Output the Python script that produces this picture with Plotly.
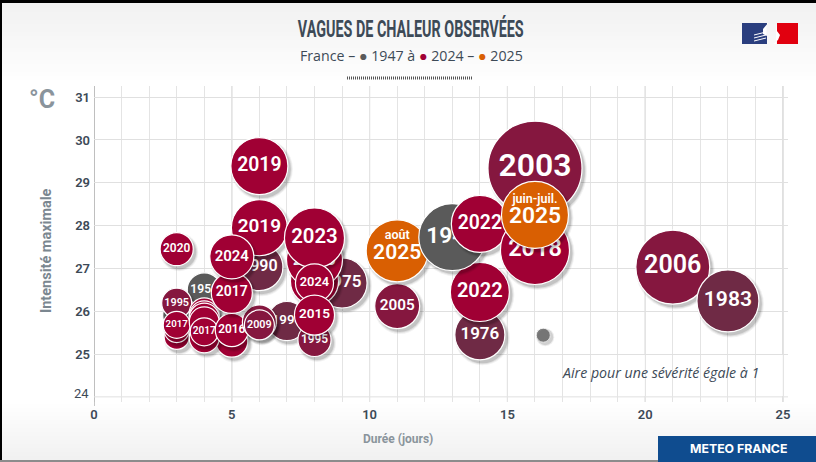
import plotly.graph_objects as go

# vagues de chaleur : ordre de la liste = ordre de dessin (du fond vers l'avant)
annees = ['1952', '1959', '2018', '2019', '1995', '2017',
          '2018',
          '2018', '2019', '2017', '2018', '2019', '2017', '2016',
          '1994', '2009', '2009', '1990', '2019', '2019', '2017', '2024', '2020',
          '1975', '2019', '2020', '2023', '2024', '1995', '2015',
          '2005', 'août 2025', '1976', '2022', '1947', '2022', '2003', '2018', 'juin-juil. 2025',
          '2006', '1983']
duree = [3, 4, 3, 3, 3, 3,
         5,
         4, 4, 4, 4, 4, 4, 5,
         7, 6, 6, 6, 6, 6, 5, 5, 3,
         9, 8, 8, 8, 8, 8, 8,
         11, 11, 14, 14, 13, 14, 16, 16, 16,
         21, 23]
intensite = [25.9, 26.5, 25.4, 25.56, 26.19, 25.68,
             25.3,
             25.38, 25.96, 25.89, 25.84, 25.75, 25.52, 25.56,
             25.77, 25.75, 25.68, 27.03, 29.39, 27.95, 26.43, 27.27, 27.45,
             26.66, 26.7, 27.2, 27.71, 26.66, 25.33, 25.91,
             26.12, 27.41, 25.45, 26.45, 27.73, 28.04, 29.34, 27.43, 28.25,
             27.03, 26.24]
severite = [4.0, 5.9, 3.2, 3.2, 4.6, 3.7,
            5.2,
            4.6, 4.6, 4.6, 4.6, 4.6, 4.0, 5.6,
            7.8, 5.9, 4.6, 11.3, 16.6, 16.0, 8.6, 9.9, 5.6,
            12.8, 11.8, 16.0, 18.4, 7.4, 5.6, 8.2,
            10.3, 19.6, 12.8, 17.8, 22.9, 16.6, 45.1, 24.3, 22.9,
            27.9, 19.6]
# bulles recouvertes : leur etiquette ne se voit pas sur l'image
sans_etiquette = [0, 2, 3, 6, 7, 8, 9, 10, 11, 15, 24]

ticks_x = [0, 5, 10, 15, 20, 25]
ticks_y = [25, 26, 27, 28, 29, 30, 31]

W, H = 816, 462
L, R, T, B = 94, 788, 86, 402
x_range = [0, 25.18]
y_range = [23.88, 31.26]
SIZEREF = 2 / 196  # severite 1 = 14 px de diametre


def px(x):
    return (x - L) / (R - L)


def py(y):
    return (B - y) / (B - T)


def couleur(label):
    an = int(label[-4:])
    if an >= 2025:
        return '#d95f02'
    if an < 1960:
        return '#5a5a5a'
    if an < 1995:
        return '#6f2a45'
    if an < 2010:
        return '#85173f'
    return '#a00034'


def path_px(points):
    return 'M ' + ' L '.join(f'{px(a):.4f},{py(b):.4f}' for a, b in points) + ' Z'


shapes = []
# fond degrade en bandes
for i in range(0, 80, 4):
    g = int(241 + 14 * i / 80)
    shapes.append(dict(type='rect', xref='paper', yref='paper', x0=px(0), x1=px(W), y0=py(i), y1=py(i + 4),
                       fillcolor=f'rgb({g},{g},{g})', line_width=0, layer='below'))
for i in range(400, 462, 4):
    g = int(255 - 15 * (i - 400) / 62)
    shapes.append(dict(type='rect', xref='paper', yref='paper', x0=px(0), x1=px(W), y0=py(i), y1=py(i + 4),
                       fillcolor=f'rgb({g},{g},{g})', line_width=0, layer='below'))
# cadre
shapes.append(dict(type='rect', xref='paper', yref='paper', x0=px(0), x1=px(W), y0=py(0), y1=py(3),
                   fillcolor='#000000', line_width=0))
shapes.append(dict(type='rect', xref='paper', yref='paper', x0=px(0), x1=px(2), y0=py(0), y1=py(H),
                   fillcolor='#000000', line_width=0))
shapes.append(dict(type='rect', xref='paper', yref='paper', x0=px(0), x1=px(W), y0=py(460), y1=py(462),
                   fillcolor='#8c8c8c', line_width=0))
# trait hachure sous le sous-titre
shapes.append(dict(type='line', xref='paper', yref='paper', x0=px(347), x1=px(473), y0=py(78), y1=py(78),
                   line=dict(color='#555555', width=3, dash='1px,1px')))
# grille : lignes majeures tous les 5
for v in ticks_x:
    shapes.append(dict(type='line', xref='x', yref='paper', x0=v, x1=v, y0=0, y1=1,
                       line=dict(color='#bcbcbc', width=1), layer='below'))
shapes.append(dict(type='line', xref='x', yref='paper', x0=0, x1=0, y0=py(406), y1=1,
                   line=dict(color='#b4b4b4', width=1.5), layer='below'))
# cadre de la legende, au-dessus de la grille
shapes.append(dict(type='rect', xref='paper', yref='paper', x0=px(526), x1=px(783), y0=py(355), y1=py(396),
                   fillcolor='rgba(255,255,255,0.8)', line_width=0, layer='between'))
# bandeau meteo france
shapes.append(dict(type='rect', xref='paper', yref='paper', x0=px(658), x1=px(816), y0=py(436), y1=py(462),
                   fillcolor='#0f4c8f', line_width=0))
# logo
shapes.append(dict(type='rect', xref='paper', yref='paper', x0=px(742), x1=px(767), y0=py(23), y1=py(44),
                   fillcolor='#2a3e7e', line_width=0))
shapes.append(dict(type='rect', xref='paper', yref='paper', x0=px(777), x1=px(798), y0=py(23), y1=py(44),
                   fillcolor='#e1000f', line_width=0))
shapes.append(dict(type='path', xref='paper', yref='paper', line_width=0, fillcolor='white',
                   path=path_px([(768, 23), (763, 29), (763, 34), (767, 36), (767, 23)])))
shapes.append(dict(type='path', xref='paper', yref='paper', line_width=0, fillcolor='white',
                   path=path_px([(776, 23), (777, 31), (780, 35), (778, 40), (773, 44), (776, 44)])))
for dy in [33, 36, 39]:
    shapes.append(dict(type='line', xref='paper', yref='paper', x0=px(754), x1=px(766), y0=py(dy + 2), y1=py(dy - 1),
                       line=dict(color='white', width=1)))

fig = go.Figure()

k_x = (x_range[1] - x_range[0]) / (R - L)
k_y = (y_range[1] - y_range[0]) / (B - T)

for i, label in enumerate(annees):
    d = (severite[i] * 196) ** 0.5
    taille = round((0.36 if d < 36 else 0.34) * d, 1)
    # ombre portee, decalee en bas a droite
    for grow, alpha in [(5, 0.05), (3, 0.08), (1, 0.12)]:
        fig.add_trace(go.Scatter(
            x=[duree[i] + 2.5 * k_x], y=[intensite[i] - 3 * k_y], mode='markers',
            marker=dict(size=d + grow, color=f'rgba(0,0,0,{alpha})', line_width=0),
            hoverinfo='skip', showlegend=False))
    fig.add_trace(go.Scatter(
        x=[duree[i]], y=[intensite[i]], mode='markers+text' if ' ' not in label else 'markers',
        text=['' if i in sans_etiquette else label], textposition='middle center',
        textfont=dict(family='Roboto', color='white', size=taille, weight=600),
        marker=dict(size=[severite[i]], sizemode='area', sizeref=SIZEREF, color=couleur(label),
                    line=dict(color='white', width=1.2), opacity=1),
        showlegend=False))
    # episodes 2025 : mois au-dessus de l'annee
    if ' ' in label:
        mois, an = label.rsplit(' ', 1)
        fig.add_trace(go.Scatter(
            x=[duree[i], duree[i]], y=[intensite[i] + 15 * k_y, intensite[i] - 5 * k_y], mode='text',
            text=[mois, f'<span style="font-size:{taille}px">{an}</span>'], textposition='middle center',
            textfont=dict(family='Roboto', color='white', size=12.5, weight=600),
            showlegend=False))

# legende : bulle de severite 1 et son texte
for grow, alpha in [(4, 0.07), (2, 0.12)]:
    fig.add_trace(go.Scatter(
        x=[16.3 + 2 * k_x], y=[25.44 - 2 * k_y], mode='markers',
        marker=dict(size=14 + grow, color=f'rgba(0,0,0,{alpha})', line_width=0),
        hoverinfo='skip', showlegend=False))
fig.add_trace(go.Scatter(
    x=[16.3], y=[25.44], mode='markers',
    marker=dict(size=[1], sizemode='area', sizeref=SIZEREF, color='#4f4f4f', line=dict(color='white', width=0.8)),
    showlegend=False))


def texte(x, y, s, size, color, family='Open Sans', anchor='center', **kw):
    return dict(xref='paper', yref='paper', x=px(x), y=py(y), text=s, showarrow=False, xanchor=anchor,
                yanchor='middle', font=dict(family=family, size=size, color=color), **kw)


annotations = [
    texte(411, 29, '<b>VAGUES DE CHALEUR OBSERVÉES</b>', 24, '#3d4a57', family='Roboto'),
    texte(411, 56, 'France – <span style="color:#5a5a5a">●</span> 1947 à <span style="color:#a00034">●</span> 2024'
                   ' – <span style="color:#d95f02">●</span> 2025', 14.2, '#3d4a57'),
    texte(42, 99, '<b>°C</b>', 25, '#8a949c', family='Roboto'),
    texte(46, 250, '<b>Intensité maximale</b>', 14.5, '#7b8790', family='Roboto', textangle=-90),
    texte(398, 439, '<b>Durée (jours)</b>', 12, '#8a949c', family='Roboto'),
    texte(560, 372, '<i>Aire pour une sévérité égale à 1</i>', 14.2, '#3d4a57', anchor='left'),
    texte(738, 449, '<b>METEO FRANCE</b>', 12.3, 'white', family='Inter'),
    texte(81, 393, '24', 13, '#3d4a57', family='Roboto', anchor='center'),
]

fig.update_layout(
    width=W, height=H,
    margin=dict(l=L, r=W - R, t=T, b=H - B),
    paper_bgcolor='white', plot_bgcolor='rgba(0,0,0,0)',
    shapes=shapes, annotations=annotations, showlegend=False,
)
fig.update_xaxes(range=x_range, tickvals=ticks_x, showgrid=True, gridcolor='#e4e4e4', zeroline=False,
                 showline=False,
                 minor=dict(showgrid=True, dtick=1, gridcolor='#e4e4e4', gridwidth=1),
                 tickfont=dict(family='Roboto', size=13, color='#3d4a57', weight=600), ticks='', ticklabelstandoff=3)
fig.update_yaxes(range=y_range, tickvals=ticks_y, showgrid=True, gridcolor='#e0e0e0', zeroline=False,
                 showline=False, tickfont=dict(family='Roboto', size=13, color='#3d4a57', weight=600), ticks='',
                 ticklabelstandoff=3)
fig.add_shape(type='line', xref='paper', yref='y', x0=0, x1=1, y0=24, y1=24, line=dict(color='#e0e0e0', width=1),
              layer='below')

# titre en police etroite : pas de condensee installee, on resserre le texte
script = """
document.body.style.margin='0';
document.querySelectorAll('.annotation-text').forEach(function(t){
  if(t.textContent.indexOf('VAGUES')===0){
    var b=t.getBBox(), c=b.x+b.width/2, s=226/b.width;
    t.setAttribute('transform','translate('+c+' 0) scale('+s+' 1) translate('+(-c)+' 0)');
  }
});
"""
fig.write_html('out.html', post_script=script, config=dict(displayModeBar=False))
